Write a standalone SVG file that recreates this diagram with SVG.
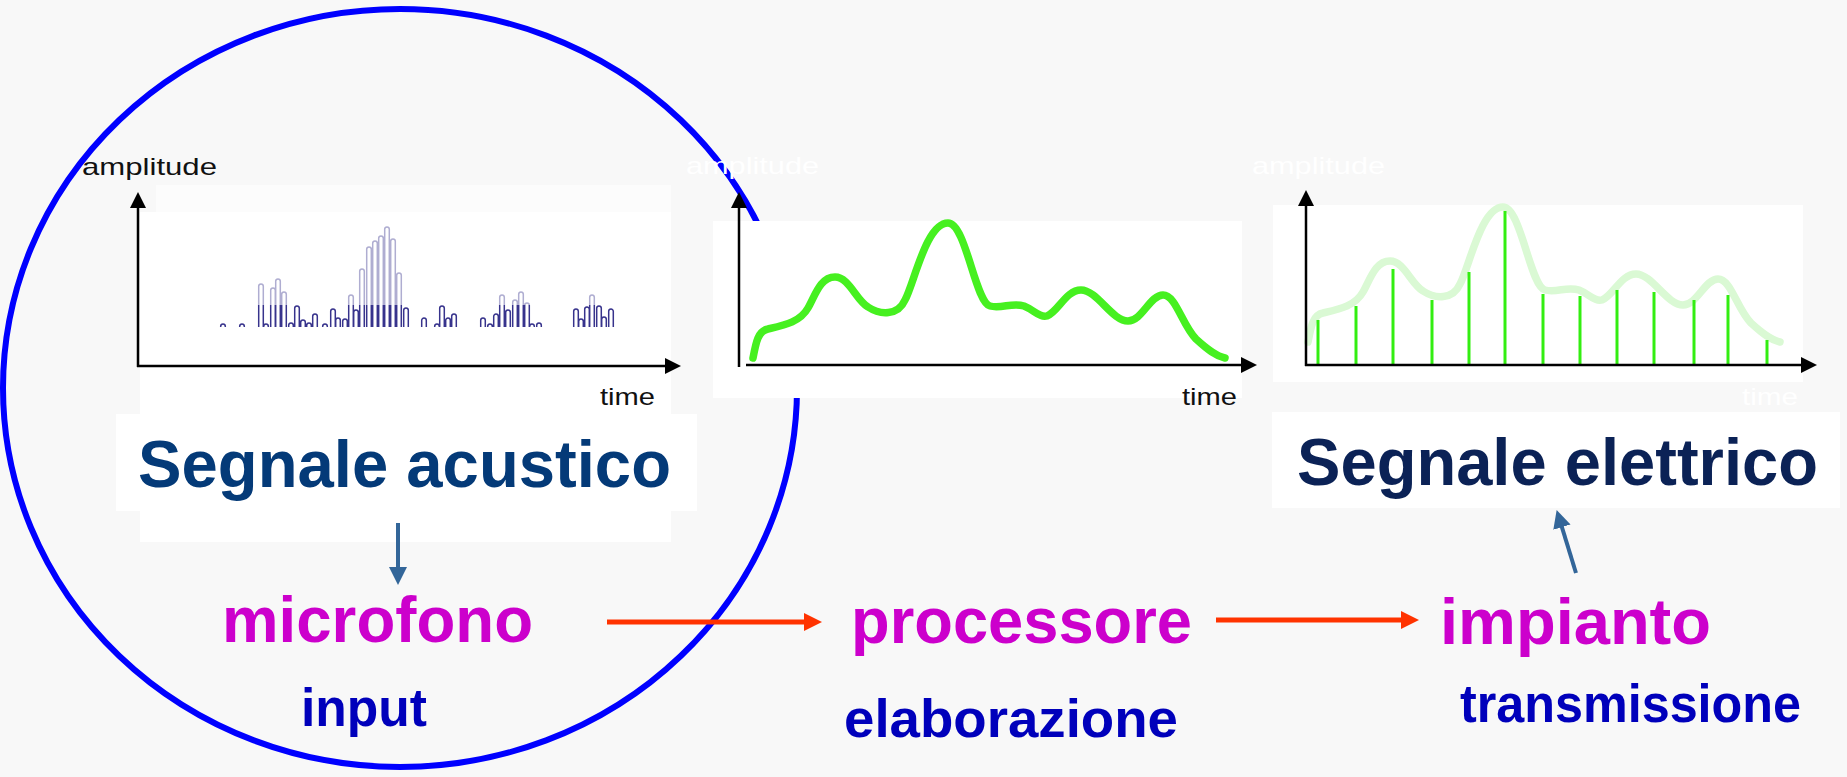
<svg xmlns="http://www.w3.org/2000/svg" width="1847" height="777" viewBox="0 0 1847 777">
<defs>
<style>
.ax{stroke:#000;stroke-width:2.5;fill:none}
.axl{font-family:"Liberation Sans",Arial,sans-serif;font-size:24px}
.big{font-family:"Liberation Sans",Arial,sans-serif;font-weight:bold;font-size:66px}
.mag{font-family:"Liberation Sans",Arial,sans-serif;font-weight:bold;font-size:65px;fill:#cc00cc}
.blu{font-family:"Liberation Sans",Arial,sans-serif;font-weight:bold;font-size:53px;fill:#0000bb}
.red{stroke:#ff3300;stroke-width:5;fill:none}
.stl{stroke:#336699;stroke-width:4;fill:none}
.smp{stroke:#33ee11;stroke-width:3}
</style>
<marker id="axh" viewBox="0 0 16 16" refX="8" refY="8" markerWidth="16" markerHeight="16" markerUnits="userSpaceOnUse" orient="auto"><path d="M0,0L16,8L0,16z" fill="#000"/></marker>
<marker id="rh" viewBox="0 0 18 18" refX="9" refY="9" markerWidth="18" markerHeight="18" markerUnits="userSpaceOnUse" orient="auto"><path d="M0,0L18,9L0,18z" fill="#ff3300"/></marker>
<marker id="bh" viewBox="0 0 18 18" refX="9" refY="9" markerWidth="18" markerHeight="18" markerUnits="userSpaceOnUse" orient="auto"><path d="M0,0L18,9L0,18z" fill="#336699"/></marker>
<path id="wave" d="M753,358C756,342 758,331 768,329C785,325 800,322 808,308C815,296 820,277 835,277C849,277 856,300 868,307C880,315 898,316 905,300C914,284 926,223 948,223C966,223 975,302 990,306C1002,309 1012,302 1024,306C1034,310 1040,318 1047,316C1058,312 1066,290 1081,290C1097,290 1112,321 1128,321C1142,321 1150,295 1163,295C1176,295 1182,325 1196,339C1208,350 1216,356 1225,358"/>
</defs>
<rect x="0" y="0" width="1847" height="777" fill="#f8f8f8"/>

<g id="chart-acoustic">
<rect x="156" y="185" width="515" height="27" fill="#fcfcfc"/>
<rect x="140" y="212" width="531" height="330" fill="#fff"/>
<path d="M220.7 327V326.3a2.3 2.3 0 0 1 4.6 0V327M239.7 327V326.3a2.3 2.3 0 0 1 4.6 0V327M258.7 327V286.3a2.3 2.3 0 0 1 4.6 0V327M263.7 327V326.3a2.3 2.3 0 0 1 4.6 0V327M270.7 327V290.3a2.3 2.3 0 0 1 4.6 0V327M275.7 327V281.3a2.3 2.3 0 0 1 4.6 0V327M281.7 327V294.3a2.3 2.3 0 0 1 4.6 0V327M288.7 327V325.3a2.3 2.3 0 0 1 4.6 0V327M294.7 327V308.3a2.3 2.3 0 0 1 4.6 0V327M300.7 327V322.3a2.3 2.3 0 0 1 4.6 0V327M306.7 327V325.3a2.3 2.3 0 0 1 4.6 0V327M312.7 327V316.3a2.3 2.3 0 0 1 4.6 0V327M322.7 327V326.3a2.3 2.3 0 0 1 4.6 0V327M330.7 327V311.3a2.3 2.3 0 0 1 4.6 0V327M335.7 327V320.3a2.3 2.3 0 0 1 4.6 0V327M342.7 327V321.3a2.3 2.3 0 0 1 4.6 0V327M348.7 327V297.3a2.3 2.3 0 0 1 4.6 0V327M353.7 327V312.3a2.3 2.3 0 0 1 4.6 0V327M359.7 327V271.3a2.3 2.3 0 0 1 4.6 0V327M366.7 327V249.3a2.3 2.3 0 0 1 4.6 0V327M372.7 327V243.3a2.3 2.3 0 0 1 4.6 0V327M378.7 327V238.3a2.3 2.3 0 0 1 4.6 0V327M384.7 327V229.3a2.3 2.3 0 0 1 4.6 0V327M390.7 327V241.3a2.3 2.3 0 0 1 4.6 0V327M396.7 327V275.3a2.3 2.3 0 0 1 4.6 0V327M403.7 327V310.3a2.3 2.3 0 0 1 4.6 0V327M421.7 327V320.3a2.3 2.3 0 0 1 4.6 0V327M434.7 327V326.3a2.3 2.3 0 0 1 4.6 0V327M439.7 327V308.3a2.3 2.3 0 0 1 4.6 0V327M445.7 327V320.3a2.3 2.3 0 0 1 4.6 0V327M451.7 327V316.3a2.3 2.3 0 0 1 4.6 0V327M480.7 327V320.3a2.3 2.3 0 0 1 4.6 0V327M487.7 327V326.3a2.3 2.3 0 0 1 4.6 0V327M493.7 327V316.3a2.3 2.3 0 0 1 4.6 0V327M499.7 327V297.3a2.3 2.3 0 0 1 4.6 0V327M505.7 327V312.3a2.3 2.3 0 0 1 4.6 0V327M512.7 327V302.3a2.3 2.3 0 0 1 4.6 0V327M518.7 327V294.3a2.3 2.3 0 0 1 4.6 0V327M524.7 327V305.3a2.3 2.3 0 0 1 4.6 0V327M529.7 327V326.3a2.3 2.3 0 0 1 4.6 0V327M536.7 327V325.3a2.3 2.3 0 0 1 4.6 0V327M573.7 327V311.3a2.3 2.3 0 0 1 4.6 0V327M578.7 327V321.3a2.3 2.3 0 0 1 4.6 0V327M584.7 327V309.3a2.3 2.3 0 0 1 4.6 0V327M589.7 327V297.3a2.3 2.3 0 0 1 4.6 0V327M596.7 327V308.3a2.3 2.3 0 0 1 4.6 0V327M601.7 327V319.3a2.3 2.3 0 0 1 4.6 0V327M608.7 327V311.3a2.3 2.3 0 0 1 4.6 0V327" fill="none" stroke="#37338c" stroke-width="1.5"/>
<rect x="215" y="215" width="410" height="90" fill="#fff" fill-opacity="0.6"/>
<line class="ax" x1="138" y1="367" x2="138" y2="200" marker-end="url(#axh)"/>
<line class="ax" x1="137" y1="366" x2="673" y2="366" marker-end="url(#axh)"/>
<text class="axl" x="82" y="175" textLength="135" lengthAdjust="spacingAndGlyphs" fill="#111">amplitude</text>
<text class="axl" x="600" y="405" textLength="55" lengthAdjust="spacingAndGlyphs" fill="#111">time</text>
</g>

<g id="label-acoustic">
<rect x="116" y="414" width="581" height="97" fill="#fff"/>
<text class="big" x="138" y="487" textLength="533" lengthAdjust="spacingAndGlyphs" fill="#043a78">Segnale acustico</text>
</g>

<g id="highlight-ellipse">
<ellipse cx="400" cy="388" rx="397" ry="379" fill="none" stroke="#0000ff" stroke-width="6"/>
</g>

<g id="chart-analog">
<rect x="713" y="221" width="529" height="177" fill="#fff"/>
<use href="#wave" fill="none" stroke="#46f020" stroke-width="7.5" stroke-linecap="round"/>
<line class="ax" x1="739" y1="367" x2="739" y2="200" marker-end="url(#axh)"/>
<line class="ax" x1="746" y1="365" x2="1249" y2="365" marker-end="url(#axh)"/>
<text class="axl" x="686" y="174" textLength="133" lengthAdjust="spacingAndGlyphs" fill="#fff">amplitude</text>
<text class="axl" x="1182" y="405" textLength="55" lengthAdjust="spacingAndGlyphs" fill="#111">time</text>
</g>

<g id="chart-sampled">
<rect x="1273" y="205" width="530" height="177" fill="#fff"/>
<use href="#wave" transform="translate(555,-16)" fill="none" stroke="#daf9d4" stroke-width="7.5" stroke-linecap="round"/>
<g class="smp">
<line x1="1318" y1="365" x2="1318" y2="320"/>
<line x1="1356" y1="365" x2="1356" y2="306"/>
<line x1="1393" y1="365" x2="1393" y2="269"/>
<line x1="1432" y1="365" x2="1432" y2="300"/>
<line x1="1469" y1="365" x2="1469" y2="272"/>
<line x1="1505" y1="365" x2="1505" y2="211"/>
<line x1="1543" y1="365" x2="1543" y2="294"/>
<line x1="1580" y1="365" x2="1580" y2="296"/>
<line x1="1617" y1="365" x2="1617" y2="290"/>
<line x1="1654" y1="365" x2="1654" y2="292"/>
<line x1="1694" y1="365" x2="1694" y2="300"/>
<line x1="1728" y1="365" x2="1728" y2="295"/>
<line x1="1767" y1="365" x2="1767" y2="340"/>
</g>
<line class="ax" x1="1306" y1="366" x2="1306" y2="198" marker-end="url(#axh)"/>
<line class="ax" x1="1305" y1="365" x2="1809" y2="365" marker-end="url(#axh)"/>
<text class="axl" x="1252" y="174" textLength="133" lengthAdjust="spacingAndGlyphs" fill="#fff">amplitude</text>
<text class="axl" x="1742" y="405" textLength="56" lengthAdjust="spacingAndGlyphs" fill="#fff">time</text>
</g>

<g id="label-electric">
<rect x="1272" y="412" width="568" height="96" fill="#fff"/>
<text class="big" x="1297" y="485" textLength="521" lengthAdjust="spacingAndGlyphs" fill="#0b2256">Segnale elettrico</text>
</g>

<g id="node-microfono">
<text class="mag" x="222" y="642" textLength="311" lengthAdjust="spacingAndGlyphs">microfono</text>
<text class="blu" x="301" y="726" textLength="126" lengthAdjust="spacingAndGlyphs">input</text>
</g>
<g id="node-processore">
<text class="mag" x="851" y="643" textLength="341" lengthAdjust="spacingAndGlyphs">processore</text>
<text class="blu" x="844" y="737" textLength="334" lengthAdjust="spacingAndGlyphs">elaborazione</text>
</g>
<g id="node-impianto">
<text class="mag" x="1440" y="644" textLength="271" lengthAdjust="spacingAndGlyphs">impianto</text>
<text class="blu" x="1460" y="722" textLength="341" lengthAdjust="spacingAndGlyphs">transmissione</text>
</g>

<g id="connectors">
<line class="stl" x1="398" y1="523" x2="398" y2="576" marker-end="url(#bh)"/>
<line class="stl" x1="1576" y1="573" x2="1559.3" y2="518.6" marker-end="url(#bh)"/>
<line class="red" x1="607" y1="622" x2="813" y2="622" marker-end="url(#rh)"/>
<line class="red" x1="1216" y1="620" x2="1410" y2="620" marker-end="url(#rh)"/>
</g>
</svg>
